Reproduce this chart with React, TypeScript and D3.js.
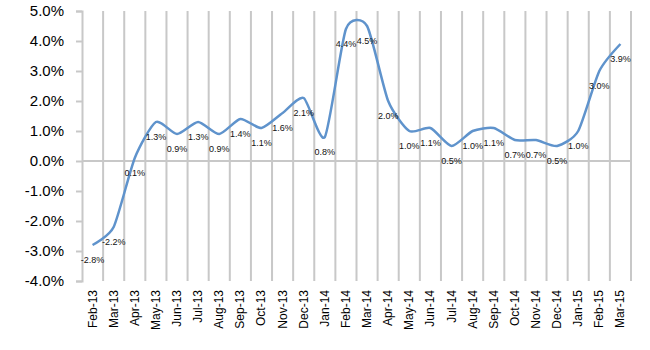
import React, { useRef, useEffect } from 'react';
import * as d3 from 'd3';

const months = [
  'Feb-13', 'Mar-13', 'Apr-13', 'May-13', 'Jun-13', 'Jul-13', 'Aug-13', 'Sep-13', 'Oct-13',
  'Nov-13', 'Dec-13', 'Jan-14', 'Feb-14', 'Mar-14', 'Apr-14', 'May-14', 'Jun-14', 'Jul-14',
  'Aug-14', 'Sep-14', 'Oct-14', 'Nov-14', 'Dec-14', 'Jan-15', 'Feb-15', 'Mar-15',
];

const growth = [
  -2.8, -2.2, 0.1, 1.3, 0.9, 1.3, 0.9, 1.4, 1.1,
  1.6, 2.1, 0.8, 4.4, 4.5, 2.0, 1.0, 1.1, 0.5,
  1.0, 1.1, 0.7, 0.7, 0.5, 1.0, 3.0, 3.9,
];

const yTicks = [-4, -3, -2, -1, 0, 1, 2, 3, 4, 5];

const width = 650;
const height = 350;
const margin = { top: 11, right: 19, bottom: 69, left: 82 };

const App: React.FC = () => {
  const svgRef = useRef<SVGSVGElement>(null);

  useEffect(() => {
    const svg = d3.select(svgRef.current);
    svg.selectAll('*').remove();

    const x = d3.scaleBand<string>()
      .domain(months)
      .range([margin.left, width - margin.right]);

    const y = d3.scaleLinear()
      .domain([-4, 5])
      .range([height - margin.bottom, margin.top]);

    const gridColor = '#c8c8c8';
    const font = '"Liberation Sans", Arial, sans-serif';

    // vertical gridlines at category boundaries
    const bounds = months.map(m => x(m)! + x.bandwidth());
    svg.append('g')
      .selectAll('line')
      .data(bounds)
      .enter().append('line')
      .attr('x1', d => d)
      .attr('x2', d => d)
      .attr('y1', y(5))
      .attr('y2', y(-4))
      .attr('stroke', gridColor)
      .attr('stroke-width', 2);

    // y axis
    const yAxis = svg.append('g')
      .attr('transform', `translate(${margin.left}, 0)`)
      .call(d3.axisLeft(y).tickValues(yTicks).tickSize(6).tickPadding(12)
        .tickFormat(d => `${(+d).toFixed(1)}%`));
    yAxis.select('.domain').attr('stroke', gridColor).attr('stroke-width', 2);
    yAxis.selectAll('.tick line').attr('stroke', gridColor).attr('stroke-width', 2);
    yAxis.selectAll('text')
      .style('font-family', font)
      .style('font-size', '15px')
      .attr('fill', '#000');

    // zero line
    svg.append('line')
      .attr('x1', margin.left)
      .attr('x2', width - margin.right)
      .attr('y1', y(0))
      .attr('y2', y(0))
      .attr('stroke', gridColor)
      .attr('stroke-width', 2);

    // x labels
    svg.append('g')
      .selectAll('text')
      .data(months)
      .enter().append('text')
      .attr('transform', d => `translate(${x(d)! + x.bandwidth() / 2 + 4}, ${y(-4) + 9}) rotate(-90)`)
      .attr('text-anchor', 'end')
      .style('font-family', font)
      .style('font-size', '12px')
      .attr('fill', '#000')
      .text(d => d);

    const cx = (i: number) => x(months[i])! + x.bandwidth() / 2;

    // smoothed line
    const line = d3.line<number>()
      .x((_, i) => cx(i))
      .y(d => y(d))
      .curve(d3.curveCardinal.tension(0.35));

    svg.append('path')
      .datum(growth)
      .attr('d', line)
      .attr('fill', 'none')
      .attr('stroke', '#5f93cc')
      .attr('stroke-width', 2.5);

    // data labels
    svg.append('g')
      .selectAll('text')
      .data(growth)
      .enter().append('text')
      .attr('x', (_, i) => cx(i))
      .attr('y', d => y(d) + 18)
      .attr('text-anchor', 'middle')
      .style('font-family', font)
      .style('font-size', '9px')
      .attr('fill', '#111')
      .text(d => `${d.toFixed(1)}%`);
  }, []);

  return (
    <svg
      ref={svgRef}
      width={width}
      height={height}
      style={{ position: 'absolute', left: 0, top: 0, background: '#fff' }}
    />
  );
};

export default App;
